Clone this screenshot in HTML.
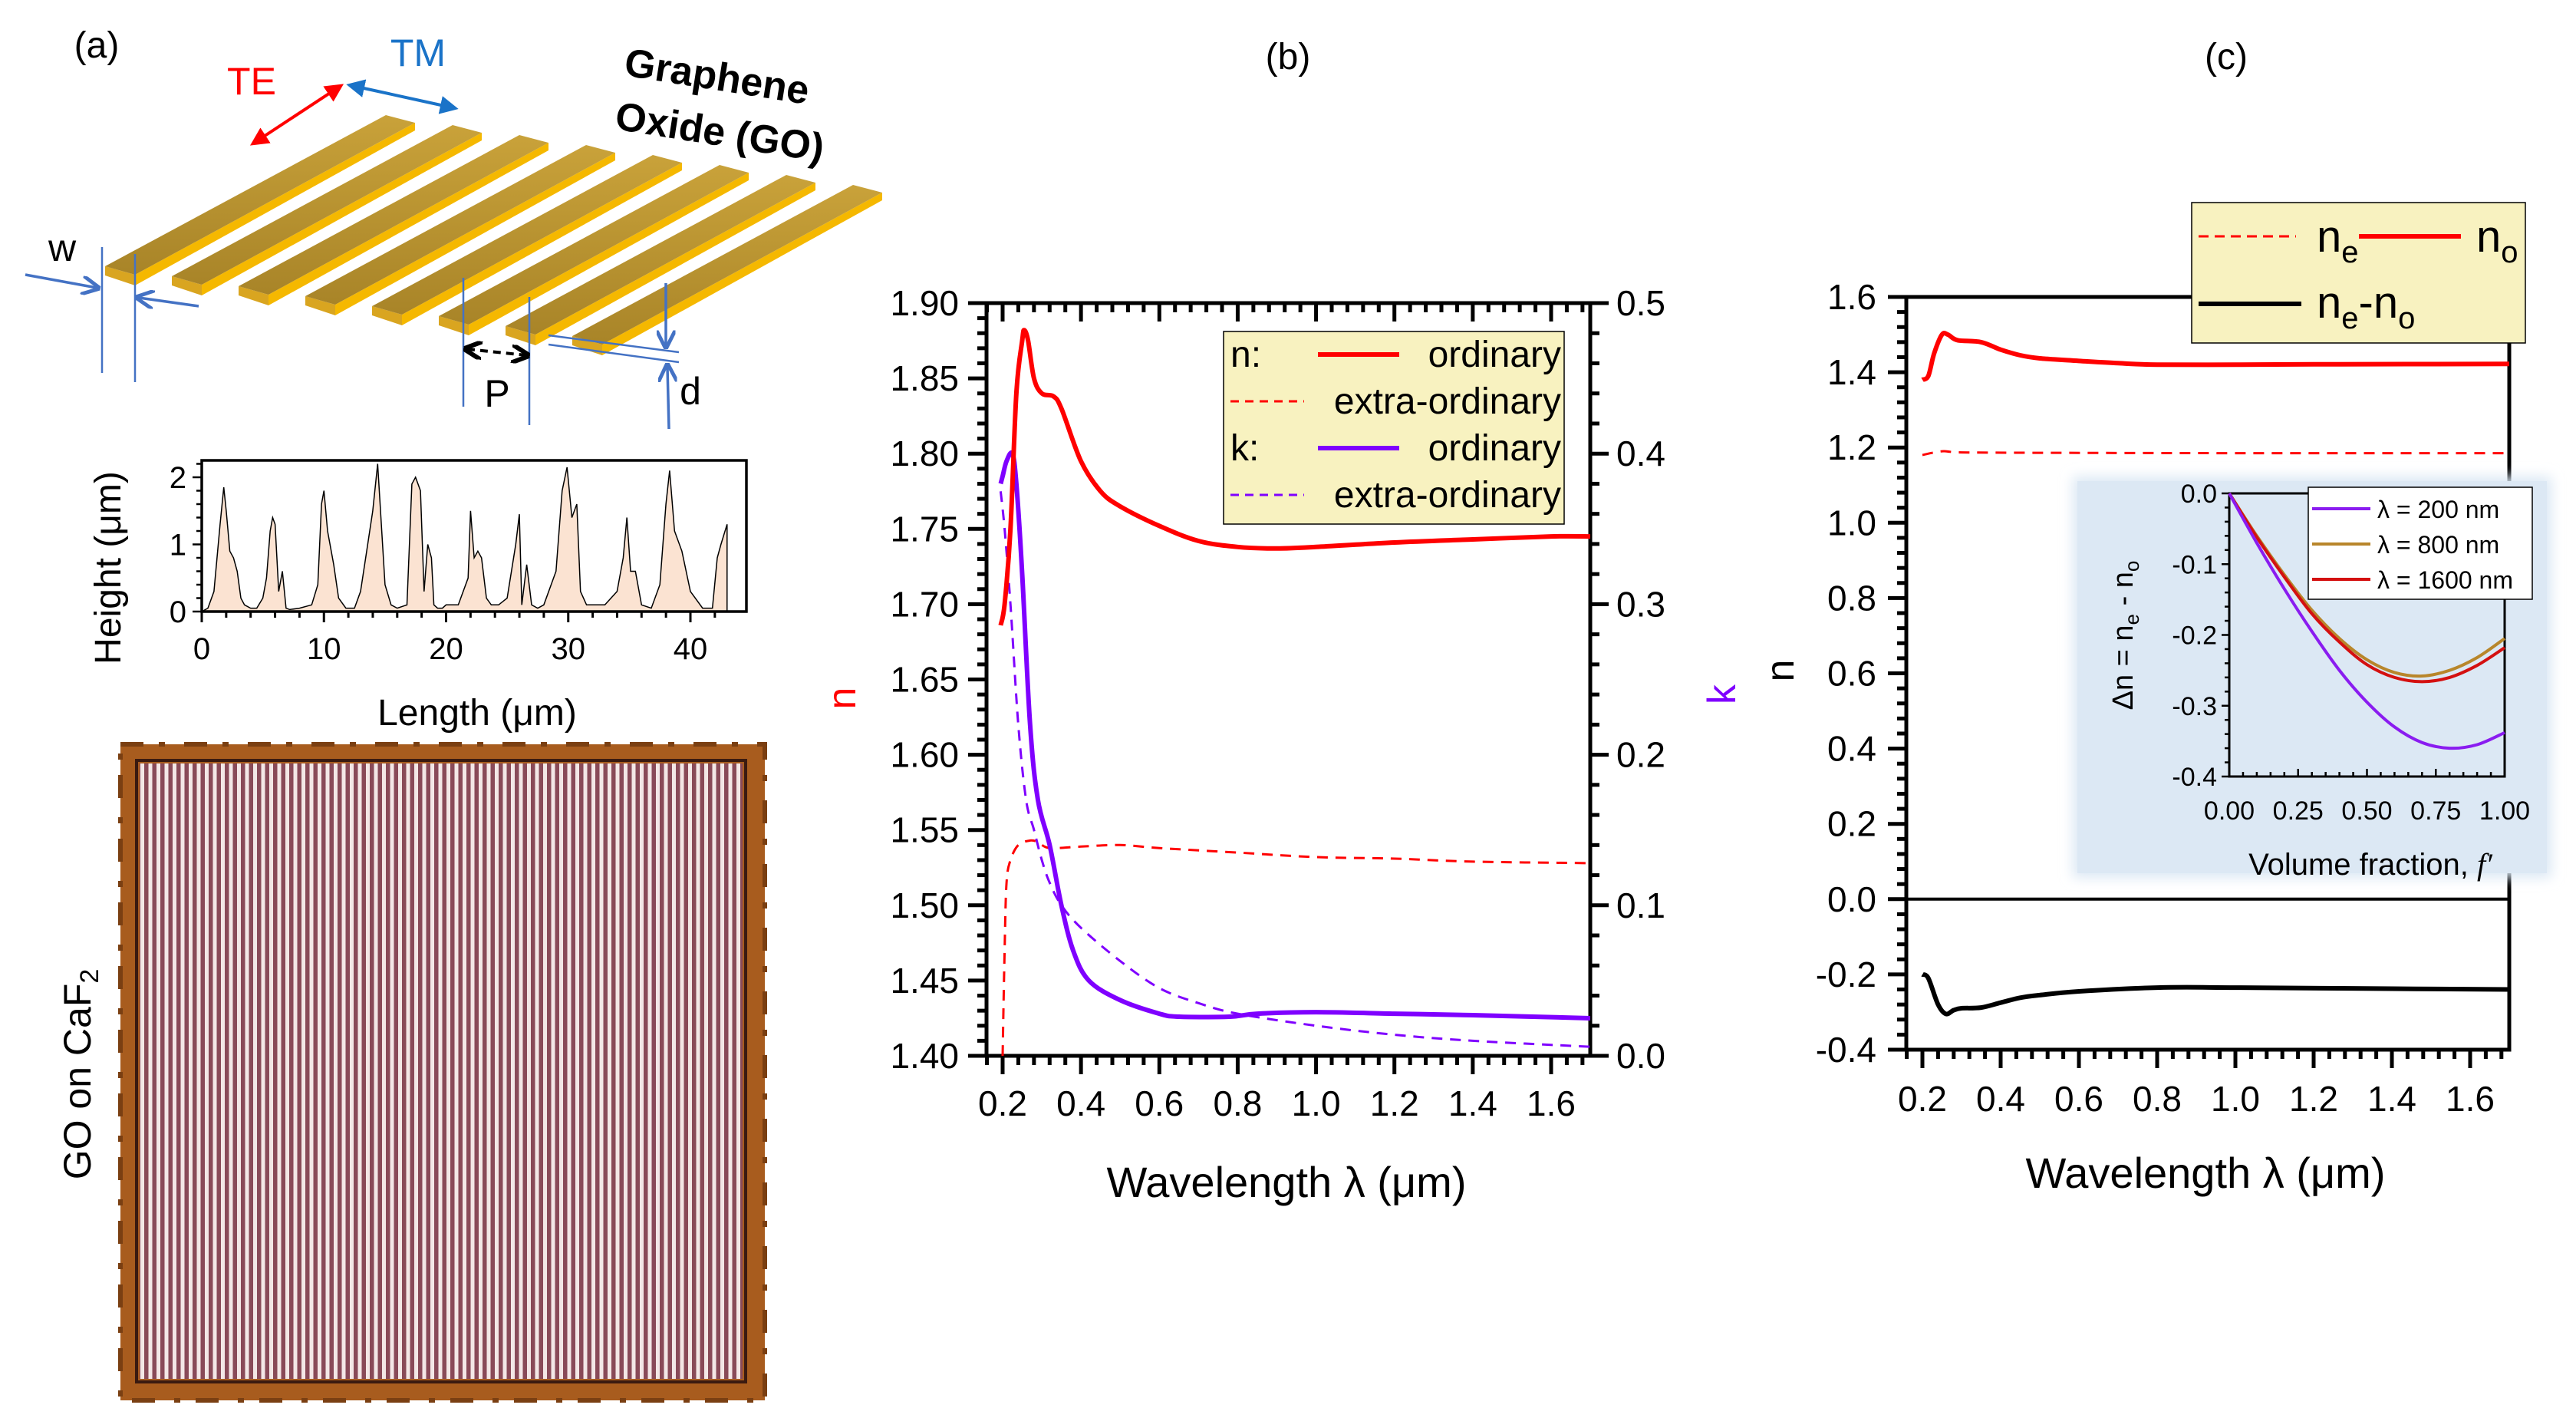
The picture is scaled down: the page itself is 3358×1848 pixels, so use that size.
<!DOCTYPE html>
<html><head><meta charset="utf-8"><style>
html,body{margin:0;padding:0;background:#fff}
svg{display:block;font-family:"Liberation Sans",Arial,sans-serif}
</style></head><body>
<svg id="fig" width="3358" height="1848" viewBox="0 0 3358 1848" xmlns="http://www.w3.org/2000/svg">
<defs>
<pattern id="stripes" x="182" y="0" width="10.5" height="20" patternUnits="userSpaceOnUse">
<rect width="10.5" height="20" fill="#8e4c5c"/><rect x="1" width="5" height="20" fill="#fdf2f2"/>
</pattern>
<linearGradient id="gold" x1="0" y1="0" x2="0" y2="1"><stop offset="0" stop-color="#c9a23a"/><stop offset="1" stop-color="#a88428"/></linearGradient>
<filter id="blur"><feGaussianBlur stdDeviation="8"/></filter>
<marker id="arR" viewBox="0 0 10 10" refX="8" refY="5" markerWidth="6" markerHeight="6" orient="auto-start-reverse"><path d="M0,0L10,5L0,10z" fill="#ff0000"/></marker>
<marker id="arB" viewBox="0 0 10 10" refX="8" refY="5" markerWidth="6" markerHeight="6" orient="auto-start-reverse"><path d="M0,0L10,5L0,10z" fill="#1a73c8"/></marker>
<marker id="arL" viewBox="0 0 10 10" refX="8" refY="5" markerWidth="7" markerHeight="7" orient="auto-start-reverse"><path d="M0,0L10,5L0,10" fill="none" stroke="#4472c4" stroke-width="2"/></marker>
<marker id="arK" viewBox="0 0 10 10" refX="8" refY="5" markerWidth="6" markerHeight="6" orient="auto-start-reverse"><path d="M0,0L10,5L0,10" fill="none" stroke="#000" stroke-width="2.5"/></marker>
</defs>

<!-- Panel (a) -->
<g>
<text x="126" y="75" font-size="48" text-anchor="middle">(a)</text>
<g id="bars"></g>
<text x="328" y="123" font-size="50" fill="#ff0000" text-anchor="middle">TE</text>
<text x="545" y="86" font-size="50" fill="#1a73c8" text-anchor="middle">TM</text>
<line x1="330" y1="187" x2="444" y2="112" stroke="#ff0000" stroke-width="4" marker-start="url(#arR)" marker-end="url(#arR)"/>
<line x1="456" y1="111" x2="593" y2="141" stroke="#1a73c8" stroke-width="4" marker-start="url(#arB)" marker-end="url(#arB)"/>
<text transform="translate(812,98) rotate(9)" font-size="52" font-weight="bold">Graphene</text>
<text transform="translate(800,168) rotate(9)" font-size="52" font-weight="bold">Oxide (GO)</text>
<text x="81" y="340" font-size="50" text-anchor="middle">w</text>
<text x="648" y="530" font-size="50" text-anchor="middle">P</text>
<text x="900" y="527" font-size="50" text-anchor="middle">d</text>
<g stroke="#4472c4" stroke-width="2.5" fill="none">
<line x1="133" y1="322" x2="133" y2="486"/><line x1="176" y1="331" x2="176" y2="498"/>
<line x1="33" y1="358" x2="126" y2="375" marker-end="url(#arL)" stroke-width="3.5"/>
<line x1="259" y1="399" x2="181" y2="388" marker-end="url(#arL)" stroke-width="3.5"/>
<line x1="604" y1="362" x2="604" y2="530"/><line x1="690" y1="387" x2="690" y2="554"/>
<line x1="715" y1="437" x2="885" y2="459"/><line x1="715" y1="449" x2="885" y2="472"/>
<line x1="868" y1="369" x2="868" y2="450" marker-end="url(#arL)" stroke-width="3.5"/>
<line x1="872" y1="559" x2="870" y2="478" marker-end="url(#arL)" stroke-width="3.5"/>
</g>
<line x1="609" y1="455" x2="686" y2="463" stroke="#000" stroke-width="4" stroke-dasharray="10,7" marker-start="url(#arK)" marker-end="url(#arK)"/>

<g id="height-plot"></g>

<g>
<rect x="157" y="970" width="840" height="855" fill="#a85c1e"/>
<rect x="157" y="970" width="840" height="855" fill="none" stroke="#7a3f12" stroke-width="6" stroke-dasharray="30,20,8,25"/>
<rect x="182" y="995" width="786" height="802" fill="url(#stripes)"/>
<rect x="182" y="995" width="786" height="802" fill="#3a2a10" opacity="0.05"/>
<rect x="178" y="991" width="794" height="810" fill="none" stroke="#3a1a10" stroke-width="4"/>
</g>
<text transform="translate(118,1400) rotate(-90)" font-size="50" text-anchor="middle">GO on CaF<tspan font-size="34" dy="10">2</tspan></text>
</g>

<!-- Panel (b) -->
<g id="pb">
<text x="1679" y="90" font-size="48" text-anchor="middle">(b)</text>
</g>
<!-- Panel (c) -->
<g id="pc">
<text x="2902" y="90" font-size="48" text-anchor="middle">(c)</text>
</g>
</svg>
<script>
const NS='http://www.w3.org/2000/svg';
// ---------- Data ----------
// Panel (b)
const bLambdaNo=[0.195,0.205,0.22,0.235,0.25,0.255,0.265,0.28,0.30,0.33,0.35,0.40,0.45,0.50,0.60,0.70,0.80,0.90,1.00,1.20,1.40,1.60,1.70];
const bNo=[1.686,1.70,1.75,1.84,1.875,1.882,1.875,1.85,1.840,1.838,1.830,1.795,1.775,1.765,1.752,1.742,1.738,1.737,1.738,1.741,1.743,1.745,1.745];
const bLambdaNe=[0.200,0.205,0.21,0.22,0.24,0.27,0.29,0.32,0.40,0.50,0.60,0.80,1.00,1.20,1.40,1.70];
const bNe=[1.40,1.47,1.515,1.53,1.54,1.543,1.542,1.538,1.539,1.540,1.538,1.535,1.532,1.531,1.529,1.528];
const bLambdaKo=[0.195,0.20,0.21,0.225,0.235,0.25,0.27,0.29,0.32,0.35,0.38,0.42,0.50,0.60,0.65,0.78,0.85,1.00,1.20,1.40,1.70];
const bKo=[0.38,0.385,0.395,0.40,0.38,0.32,0.22,0.17,0.14,0.10,0.07,0.05,0.037,0.028,0.026,0.026,0.028,0.029,0.028,0.027,0.025];
const bLambdaKe=[0.195,0.205,0.22,0.24,0.26,0.28,0.30,0.32,0.35,0.40,0.50,0.60,0.70,0.80,1.00,1.20,1.40,1.70];
const bKe=[0.375,0.35,0.30,0.22,0.17,0.15,0.13,0.115,0.10,0.085,0.063,0.045,0.035,0.028,0.020,0.014,0.010,0.006];
const bXTicks=['0.2','0.4','0.6','0.8','1.0','1.2','1.4','1.6'];
const bYTicks=['1.40','1.45','1.50','1.55','1.60','1.65','1.70','1.75','1.80','1.85','1.90'];
const bKTicks=['0.0','0.1','0.2','0.3','0.4','0.5'];
// Panel (c)
const cLambdaNo=[0.20,0.215,0.23,0.25,0.265,0.29,0.35,0.40,0.45,0.50,0.60,0.70,0.80,1.00,1.20,1.70];
const cNo=[1.38,1.39,1.45,1.50,1.50,1.485,1.48,1.46,1.445,1.437,1.43,1.424,1.42,1.42,1.421,1.422];
const cLambdaNe=[0.20,0.25,0.30,0.50,1.00,1.70];
const cNe=[1.18,1.19,1.187,1.186,1.185,1.185];
const cLambdaDn=[0.20,0.215,0.24,0.26,0.28,0.30,0.35,0.40,0.45,0.50,0.60,0.80,1.00,1.40,1.70];
const cDn=[-0.20,-0.21,-0.28,-0.305,-0.295,-0.29,-0.288,-0.275,-0.262,-0.255,-0.245,-0.235,-0.235,-0.238,-0.24];
const cXTicks=['0.2','0.4','0.6','0.8','1.0','1.2','1.4','1.6'];
const cYTicks=['-0.4','-0.2','0.0','0.2','0.4','0.6','0.8','1.0','1.2','1.4','1.6'];
// Inset
const insF=[0,0.1,0.2,0.3,0.4,0.5,0.6,0.7,0.8,0.9,1.0];
const ins200=[0,-0.07,-0.135,-0.195,-0.25,-0.295,-0.33,-0.352,-0.36,-0.355,-0.338];
const ins800=[0,-0.06,-0.115,-0.165,-0.205,-0.235,-0.253,-0.258,-0.25,-0.232,-0.205];
const ins1600=[0,-0.062,-0.118,-0.17,-0.21,-0.242,-0.26,-0.266,-0.26,-0.243,-0.218];
const insXTicks=['0.00','0.25','0.50','0.75','1.00'];
const insYTicks=['-0.4','-0.3','-0.2','-0.1','0.0'];
// Height profile
const hX=[0,0.5,1,1.5,1.8,2,2.3,2.6,2.9,3.2,3.5,4,4.5,5,5.3,5.6,5.8,6,6.3,6.6,6.9,7.2,8,9,9.5,9.8,10,10.3,10.8,11.2,11.8,12.5,13,13.5,14,14.4,14.7,15,15.5,16,16.8,17.2,17.5,17.9,18.2,18.5,18.8,19,19.3,19.7,20,21,21.8,22,22.3,22.6,22.9,23.3,23.7,24.3,25,25.7,26,26.2,26.6,27,27.5,28,29,29.5,29.9,30.3,30.7,31,31.5,32,33,34,34.5,34.8,35.1,35.5,36,36.8,37.5,38,38.3,38.7,39.3,40,41,41.8,42.2,42.5,43];
const hY=[0,0.05,0.3,1.3,1.85,1.5,0.9,0.8,0.6,0.2,0.1,0.05,0.05,0.2,0.5,1.2,1.4,1.3,0.3,0.6,0.05,0.03,0.05,0.1,0.4,1.6,1.8,1.2,0.7,0.2,0.05,0.05,0.3,0.9,1.5,2.2,1.3,0.4,0.1,0.05,0.1,1.9,2.0,1.8,0.3,1.0,0.8,0.1,0.05,0.05,0.1,0.1,0.5,1.5,0.8,0.9,0.8,0.2,0.1,0.1,0.2,1.0,1.45,0.1,0.7,0.1,0.05,0.1,0.6,1.8,2.15,1.4,1.6,0.3,0.1,0.1,0.1,0.3,0.8,1.4,0.6,0.6,0.1,0.05,0.4,1.6,2.1,1.2,0.9,0.3,0.05,0.05,0.8,1.0,1.3];
const hXTicks=['0','10','20','30','40'];
const hYTicks=['0','1','2'];

// ---------- helpers ----------
function mk(tag,attrs,parent){const e=document.createElementNS(NS,tag);for(const k in attrs)e.setAttribute(k,attrs[k]);if(parent)parent.appendChild(e);return e;}
function lin(d0,d1,r0,r1){return v=>r0+(v-d0)/(d1-d0)*(r1-r0);}
function smoothPath(xs,ys,sx,sy){
  const p=xs.map((x,i)=>[sx(x),sy(ys[i])]);
  let d='M'+p[0][0].toFixed(1)+','+p[0][1].toFixed(1);
  for(let i=0;i<p.length-1;i++){
    const p0=p[i-1]||p[i],p1=p[i],p2=p[i+1],p3=p[i+2]||p2;
    const c1=[p1[0]+(p2[0]-p0[0])/6,p1[1]+(p2[1]-p0[1])/6];
    const c2=[p2[0]-(p3[0]-p1[0])/6,p2[1]-(p3[1]-p1[1])/6];
    d+='C'+c1[0].toFixed(1)+','+c1[1].toFixed(1)+' '+c2[0].toFixed(1)+','+c2[1].toFixed(1)+' '+p2[0].toFixed(1)+','+p2[1].toFixed(1);
  }
  return d;
}
function txt(parent,x,y,s,size,anchor,extra){const t=mk('text',Object.assign({x:x,y:y,'font-size':size,'text-anchor':anchor||'middle'},extra||{}),parent);t.textContent=s;return t;}

// ---------- bars (a) ----------
(function(){
  const g=document.getElementById('bars');
  for(let i=0;i<8;i++){
    const ox=87*i, oy=13*i;
    const A=[137+ox,347+oy],B=[176+ox,358+oy],C=[541+ox,160+oy],D=[503+ox,150+oy];
    const bar=mk('g',{},g);
    
    
    mk('polygon',{points:`${A[0]},${A[1]} ${B[0]},${B[1]} ${B[0]},${B[1]+14} ${A[0]},${A[1]+12}`,fill:'#d9a520'},bar);
    mk('polygon',{points:`${B[0]},${B[1]} ${C[0]},${C[1]} ${C[0]},${C[1]+10} ${B[0]},${B[1]+14}`,fill:'#f5b800'},bar);
    mk('polygon',{points:`${A[0]},${A[1]} ${B[0]},${B[1]} ${C[0]},${C[1]} ${D[0]},${D[1]}`,fill:'url(#gold)'},bar);
  }
})();

// ---------- height plot ----------
(function(){
  const g=document.getElementById('height-plot');
  const L=263,R=973,T=600,B=797;
  const sx=lin(0,40,263,900), sy=lin(0,2,797,622);
  let d='M'+sx(hX[0])+','+sy(0);
  hX.forEach((x,i)=>{d+='L'+sx(x).toFixed(1)+','+sy(hY[i]).toFixed(1);});
  d+='L'+sx(hX[hX.length-1])+','+sy(0)+'Z';
  const area=mk('path',{d:d,fill:'#fbe3d2',stroke:'#000','stroke-width':1.5},g);
  
  
  const frame=mk('rect',{x:L,y:T,width:R-L,height:B-T,fill:'none',stroke:'#000','stroke-width':3.5},g);
  
  
  for(let v=0;v<=43;v+=2){const x=sx(v);if(x>R)continue;const maj=v%10===0;mk('line',{x1:x,y1:B,x2:x,y2:B+(maj?14:8),stroke:'#000','stroke-width':3},g);}
  hXTicks.forEach(s=>{const t=txt(g,sx(+s),B+62,s,40);});
  for(let v=0;v<=2.2;v+=0.2){const y=sy(v);const maj=Math.abs(v-Math.round(v))<1e-6;mk('line',{x1:L,y1:y,x2:L-(maj?12:7),y2:y,stroke:'#000','stroke-width':2.5},g);}
  hYTicks.forEach(s=>{const t=txt(g,L-20,sy(+s)+14,s,40,'end');});
  const xt=txt(g,622,945,'Length (\u03bcm)',48);
  const yt=txt(g,0,0,'Height (\u03bcm)',48,'middle',{transform:'translate(157,740) rotate(-90)'});
})();

// ---------- panel b ----------
(function(){
  const g=document.getElementById('pb');
  const L=1286,R=2073,T=395,B=1376;
  const sx=lin(0.2,1.6,1307,2022), sy=lin(1.4,1.9,B,T), sk=lin(0,0.5,B,T);
  for(let i=0;i<=38;i++){const v=0.16+i*0.04;const x=sx(v);if(x<L-1||x>R+1)continue;const maj=Math.abs((v-0.2)/0.2-Math.round((v-0.2)/0.2))<1e-6;
    mk('line',{x1:x,y1:B,x2:x,y2:B+(maj?24:12),stroke:'#000','stroke-width':5},g);
    mk('line',{x1:x,y1:T,x2:x,y2:T+(maj?24:12),stroke:'#000','stroke-width':5},g);}
  for(let i=0;i<=50;i++){const v=1.4+i*0.01;const y=sy(v);const maj=i%5===0;mk('line',{x1:L,y1:y,x2:L-(maj?24:12),y2:y,stroke:'#000','stroke-width':5},g);}
  for(let i=0;i<=25;i++){const v=i*0.02;const y=sk(v);const maj=i%5===0;mk('line',{x1:R,y1:y,x2:R+(maj?24:12),y2:y,stroke:'#000','stroke-width':5},g);}
  const fr=mk('rect',{x:L,y:T,width:R-L,height:B-T,fill:'none',stroke:'#000','stroke-width':5},g);
  
  bXTicks.forEach(s=>{const t=txt(g,sx(+s),B+78,s,46);});
  bYTicks.forEach(s=>{const t=txt(g,L-36,sy(+s)+16,s,46,'end');});
  bKTicks.forEach(s=>{const t=txt(g,R+34,sk(+s)+16,s,46,'start');});
  const xt=txt(g,1677,1560,'Wavelength \u03bb (\u03bcm)',56);
  const yn=txt(g,0,0,'n',52,'middle',{fill:'#ff0000',transform:'translate(1115,910) rotate(-90)'});
  const yk=txt(g,0,0,'k',52,'middle',{fill:'#7f00ff',transform:'translate(2262,905) rotate(-90)'});
  const clip=mk('clipPath',{id:'clipb'},g);mk('rect',{x:L,y:T,width:R-L,height:B-T},clip);
  const cg=mk('g',{'clip-path':'url(#clipb)'},g);
  const s1=mk('path',{d:smoothPath(bLambdaNe,bNe,sx,sy),fill:'none',stroke:'#ff0000','stroke-width':3,'stroke-dasharray':'14,10'},cg);
  
  const s2=mk('path',{d:smoothPath(bLambdaKe,bKe,sx,sk),fill:'none',stroke:'#7f00ff','stroke-width':3,'stroke-dasharray':'14,10'},cg);
  
  const s3=mk('path',{d:smoothPath(bLambdaKo,bKo,sx,sk),fill:'none',stroke:'#7f00ff','stroke-width':6},cg);
  
  const s4=mk('path',{d:smoothPath(bLambdaNo,bNo,sx,sy),fill:'none',stroke:'#ff0000','stroke-width':6},cg);
  
  const lg=mk('g',{},g);
  mk('rect',{x:1595,y:432,width:444,height:251,fill:'#f8f2c0',stroke:'#000','stroke-width':1.5},lg);
  const rows=[['n:','#ff0000',6,null,'ordinary'],['','#ff0000',3,'11,8','extra-ordinary'],['k:','#7f00ff',6,null,'ordinary'],['','#7f00ff',3,'11,8','extra-ordinary']];
  rows.forEach((r,i)=>{const y=462+i*61;
    if(r[0])txt(lg,1604,y+16,r[0],48,'start');
    if(r[3])mk('line',{x1:1604,y1:y,x2:1700,y2:y,stroke:r[1],'stroke-width':r[2],'stroke-dasharray':r[3]},lg);
    else mk('line',{x1:1718,y1:y,x2:1824,y2:y,stroke:r[1],'stroke-width':r[2]},lg);
    const t=txt(lg,2035,y+16,r[4],48,'end');});
})();

// ---------- panel c ----------
(function(){
  const g=document.getElementById('pc');
  const L=2485,R=3271,T=387,B=1368;
  const sx=lin(0.2,1.6,2506,3220), sy=lin(-0.4,1.6,B,T);
  for(let i=0;i<=39;i++){const v=0.16+i*0.04;const x=sx(v);if(x<L-1||x>R+1)continue;const maj=Math.abs((v-0.2)/0.2-Math.round((v-0.2)/0.2))<1e-6;
    mk('line',{x1:x,y1:B,x2:x,y2:B+(maj?24:12),stroke:'#000','stroke-width':5},g);}
  for(let i=0;i<=50;i++){const v=-0.4+i*0.04;const y=sy(v);const maj=i%5===0;mk('line',{x1:L,y1:y,x2:L-(maj?24:12),y2:y,stroke:'#000','stroke-width':5},g);}
  const fr=mk('rect',{x:L,y:T,width:R-L,height:B-T,fill:'none',stroke:'#000','stroke-width':5},g);
  
  const z=mk('line',{x1:L,y1:sy(0),x2:R,y2:sy(0),stroke:'#000','stroke-width':4},g);
  
  cXTicks.forEach(s=>{const t=txt(g,sx(+s),1448,s,46);});
  cYTicks.forEach(s=>{const t=txt(g,2446,sy(+s)+16,s,46,'end');});
  const xt=txt(g,2875,1548,'Wavelength \u03bb (\u03bcm)',56);
  const yt=txt(g,0,0,'n',52,'middle',{transform:'translate(2338,874) rotate(-90)'});
  const a=mk('path',{d:smoothPath(cLambdaNe,cNe,sx,sy),fill:'none',stroke:'#ff0000','stroke-width':3,'stroke-dasharray':'14,10'},g);
  
  const b=mk('path',{d:smoothPath(cLambdaNo,cNo,sx,sy),fill:'none',stroke:'#ff0000','stroke-width':6},g);
  
  const c=mk('path',{d:smoothPath(cLambdaDn,cDn,sx,sy),fill:'none',stroke:'#000','stroke-width':6},g);
  
  const lg=mk('g',{},g);
  mk('rect',{x:2857,y:264,width:435,height:183,fill:'#f8f2c0',stroke:'#000','stroke-width':1.5},lg);
  mk('line',{x1:2866,y1:308,x2:2993,y2:308,stroke:'#ff0000','stroke-width':3,'stroke-dasharray':'13,8'},lg);
  mk('line',{x1:3075,y1:308,x2:3208,y2:308,stroke:'#ff0000','stroke-width':6},lg);
  mk('line',{x1:2866,y1:396,x2:3000,y2:396,stroke:'#000','stroke-width':6},lg);
  const l1=mk('text',{x:3020,y:328,'font-size':58},lg);l1.innerHTML='n<tspan font-size="40" dy="14">e</tspan>';
  const l2=mk('text',{x:3228,y:328,'font-size':58},lg);l2.innerHTML='n<tspan font-size="40" dy="14">o</tspan>';
  const l3=mk('text',{x:3020,y:414,'font-size':58},lg);l3.innerHTML='n<tspan font-size="40" dy="14">e</tspan><tspan dy="-14">-n</tspan><tspan font-size="40" dy="14">o</tspan>';
  const ig=mk('g',{},g);
  mk('rect',{x:2702,y:621,width:624,height:523,fill:'#dce8f4',filter:'url(#blur)'},ig);
  mk('rect',{x:2708,y:627,width:612,height:511,fill:'#dce8f4'},ig);
  const IL=2906,IR=3265,IT=643,IB=1012;
  const fx=lin(0,1,IL,IR), fy=lin(-0.4,0,IB,IT);
  for(let i=0;i<=20;i++){const x=fx(i*0.05);mk('line',{x1:x,y1:IB,x2:x,y2:IB-(i%5===0?10:6),stroke:'#000','stroke-width':2.5},ig);}
  for(let i=0;i<=20;i++){const y=fy(-0.4+i*0.02);mk('line',{x1:IL,y1:y,x2:IL-(i%5===0?10:6),y2:y,stroke:'#000','stroke-width':2.5},ig);}
  mk('rect',{x:IL,y:IT,width:IR-IL,height:IB-IT,fill:'none',stroke:'#000','stroke-width':3},ig);
  insXTicks.forEach(s=>{const t=txt(ig,fx(+s),1068,s,34);});
  insYTicks.forEach(s=>{const t=txt(ig,IL-16,fy(+s)+12,s,34,'end');});
  const ixt=mk('text',{x:3090,y:1140,'font-size':40,'text-anchor':'middle'},ig);ixt.innerHTML='Volume fraction, <tspan font-family="Liberation Serif" font-style="italic">f\u2032</tspan>';
  
  const iyt=mk('text',{transform:'translate(2780,828) rotate(-90)','font-size':38,'text-anchor':'middle'},ig);iyt.innerHTML='\u0394n = n<tspan font-size="26" dy="8">e</tspan><tspan dy="-8"> - n</tspan><tspan font-size="26" dy="8">o</tspan>';
  
  const p1=mk('path',{d:smoothPath(insF,ins800,fx,fy),fill:'none',stroke:'#b8862b','stroke-width':4},ig);
  
  const p2=mk('path',{d:smoothPath(insF,ins1600,fx,fy),fill:'none',stroke:'#d41010','stroke-width':4},ig);
  
  const p3=mk('path',{d:smoothPath(insF,ins200,fx,fy),fill:'none',stroke:'#8a1cf0','stroke-width':4},ig);
  
  const il=mk('g',{},ig);
  mk('rect',{x:3009,y:635,width:292,height:146,fill:'#fff',stroke:'#000','stroke-width':1.5},il);
  [['#8a1cf0','\u03bb = 200 nm'],['#b8862b','\u03bb = 800 nm'],['#d41010','\u03bb = 1600 nm']].forEach((r,i)=>{const y=663+i*46;
    mk('line',{x1:3014,y1:y,x2:3090,y2:y,stroke:r[0],'stroke-width':4},il);
    const t=txt(il,3099,y+12,r[1],32,'start');});
})();
</script>
</body></html>
